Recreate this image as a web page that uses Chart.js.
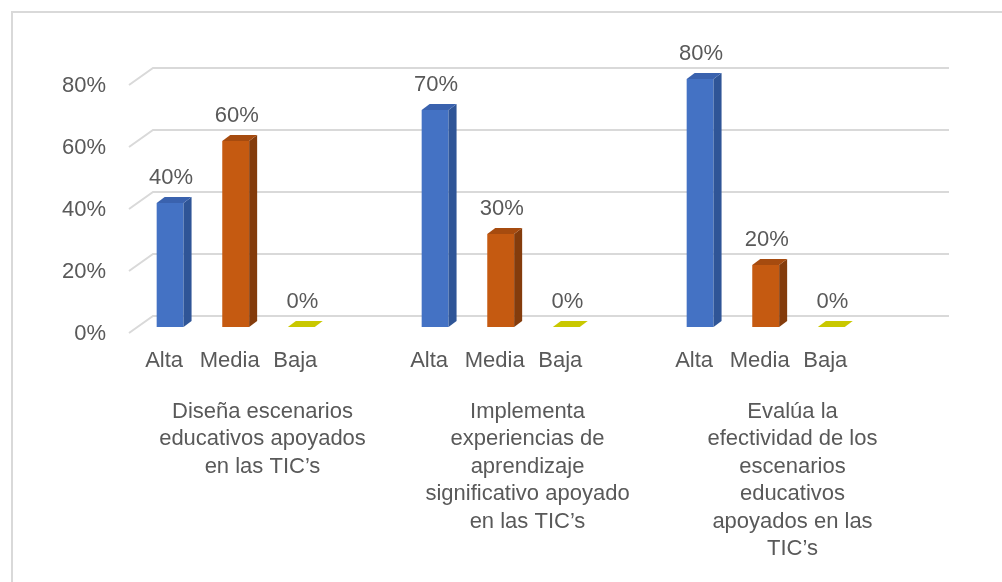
<!DOCTYPE html>
<html>
<head>
<meta charset="utf-8">
<script src="https://cdn.jsdelivr.net/npm/chart.js@4.4.1/dist/chart.umd.min.js"></script>
<style>
  html, body { margin: 0; padding: 0; background: #fff; }
  #wrap { position: relative; width: 1002px; height: 582px; overflow: hidden; }
  #marco { position: absolute; left: 11px; top: 11px; width: 1100px; height: 700px; border: 2px solid #d9d9d9; }
  canvas { position: absolute; left: 0; top: 0; }
</style>
</head>
<body>
<div id="wrap">
  <div id="marco"></div>
  <canvas id="grafico" width="1002" height="582"></canvas>
</div>
<script>
// datos
const grupos = [
  ["Diseña escenarios", "educativos apoyados", "en las TIC’s"],
  ["Implementa", "experiencias de", "aprendizaje", "significativo apoyado", "en las TIC’s"],
  ["Evalúa la", "efectividad de los", "escenarios", "educativos", "apoyados en las", "TIC’s"]
];
const niveles = ["Alta", "Media", "Baja"];
const alta = [40, 70, 80];
const media = [60, 30, 20];
const baja = [0, 0, 0];
const maxY = 80;
const pasoY = 20;

const gris = "#595959";
const fuente = "'Liberation Sans', Arial, sans-serif";
const frente = ["#4472C4", "#C55A11", "#C9C800"];
const lado = ["#2F5597", "#843C0C", "#A5A500"];
const techo = ["#3A62AE", "#A64B0F", "#C9C800"];

// profundidad de las barras y de la pared del fondo
const prof = { dx: 8, dy: -6 };
const pared = { dx: 17, dy: -11 };

const efecto3d = {
  id: "efecto3d",
  beforeDatasetsDraw(chart) {
    const { ctx, chartArea, scales } = chart;
    const y = scales.y;
    ctx.save();
    ctx.strokeStyle = "#d9d9d9";
    ctx.lineWidth = 2;
    y.ticks.forEach((t) => {
      const yb = y.getPixelForValue(t.value) + pared.dy;
      ctx.beginPath();
      ctx.moveTo(chartArea.left - 7, yb + 17);
      ctx.lineTo(chartArea.left + pared.dx, yb);
      ctx.lineTo(chartArea.right + pared.dx + 1, yb);
      ctx.stroke();
    });
    ctx.restore();
  },
  afterDatasetsDraw(chart) {
    const { ctx } = chart;
    ctx.save();
    for (let d = 0; d < 3; d++) {
      const meta = chart.getDatasetMeta(d);
      meta.data.forEach((bar, i) => {
        const { x, y, base, width } = bar.getProps(["x", "y", "base", "width"], true);
        const izq = x - width / 2;
        const der = x + width / 2;
        // cara lateral
        if (base - y > 0.5) {
          ctx.fillStyle = lado[d];
          ctx.beginPath();
          ctx.moveTo(der, y);
          ctx.lineTo(der + prof.dx, y + prof.dy);
          ctx.lineTo(der + prof.dx, base + prof.dy);
          ctx.lineTo(der, base);
          ctx.closePath();
          ctx.fill();
        }
        // cara superior
        ctx.fillStyle = techo[d];
        ctx.beginPath();
        ctx.moveTo(izq, y);
        ctx.lineTo(izq + prof.dx, y + prof.dy);
        ctx.lineTo(der + prof.dx, y + prof.dy);
        ctx.lineTo(der, y);
        ctx.closePath();
        ctx.fill();

        // etiquetas
        ctx.fillStyle = gris;
        ctx.font = "22px " + fuente;
        ctx.textAlign = "center";
        ctx.textBaseline = "middle";
        const valor = chart.data.datasets[d].data[i];
        ctx.fillText(valor + "%", x + 1, y - 25);
        ctx.fillText(niveles[d], x - 6, 361);
      });
    }
    ctx.restore();
  }
};

new Chart(document.getElementById("grafico"), {
  type: "bar",
  data: {
    labels: grupos,
    datasets: [
      { label: niveles[0], data: alta, backgroundColor: frente[0] },
      { label: niveles[1], data: media, backgroundColor: frente[1] },
      { label: niveles[2], data: baja, backgroundColor: frente[2] },
      { label: "", data: [null, null, null] } // hueco al final de cada grupo
    ]
  },
  options: {
    responsive: false,
    animation: false,
    categoryPercentage: 0.99,
    barPercentage: 0.41,
    layout: { padding: { top: 79, left: 62, right: 71, bottom: 19 } },
    plugins: { legend: { display: false }, tooltip: { enabled: false } },
    scales: {
      x: {
        grid: { display: false, drawTicks: false },
        border: { display: false },
        afterFit: (scale) => { scale.height = 236; },
        ticks: {
          color: gris,
          font: { family: fuente, size: 22, lineHeight: 1.25 },
          padding: 71,
          labelOffset: -6,
          maxRotation: 0,
          autoSkip: false
        }
      },
      y: {
        min: 0,
        max: maxY,
        grid: { display: false, drawTicks: false },
        border: { display: false },
        afterFit: (scale) => { scale.width = 74; },
        ticks: {
          stepSize: pasoY,
          color: gris,
          font: { family: fuente, size: 22 },
          padding: 30,
          labelOffset: 7,
          callback: (v) => v + "%"
        }
      }
    }
  },
  plugins: [efecto3d]
});
</script>
</body>
</html>
